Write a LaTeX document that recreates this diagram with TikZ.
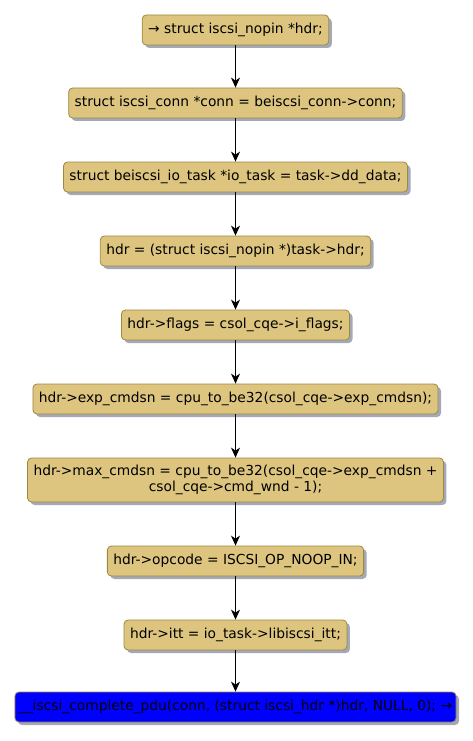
\documentclass[tikz,border=0pt]{standalone}
\usepackage{fontspec}
\setmainfont{DejaVu Sans}
\usepackage{tikz}
\usetikzlibrary{arrows.meta, shadows}
\definecolor{boxtan}{HTML}{DDC57F}
\definecolor{boxedge}{HTML}{9C8840}
\definecolor{shdgray}{HTML}{A3A9B6}
\definecolor{endblue}{HTML}{0000FF}

\tikzset{
  stepbox/.style={draw=boxedge, fill=boxtan, rounded corners=4pt,
    line width=0.8pt, inner xsep=6pt, inner ysep=0pt, minimum height=30pt,
    align=center, font=\fontsize{13.8}{16.5}\selectfont,
    drop shadow={shadow xshift=3pt, shadow yshift=-3pt, fill=shdgray, opacity=1}},
  endbox/.style={stepbox, fill=endblue, inner xsep=4pt},
  flow/.style={-{Stealth[length=10pt, width=9pt, inset=3pt]}, line width=0.8pt, black}
}

\begin{document}
\begin{tikzpicture}[x=1pt, y=-1pt]
  \useasboundingbox (0,0) rectangle (473,741);
  \def\cx{235.5}  % centre line of the flow

  % Steps, top to bottom
  \node[stepbox] (nopin)   at (\cx,30)  {→ struct iscsi\_nopin *hdr;};
  \node[stepbox] (conn)    at (\cx,103) {struct iscsi\_conn *conn = beiscsi\_conn->conn;};
  \node[stepbox] (iotask)  at (\cx,177) {struct beiscsi\_io\_task *io\_task = task->dd\_data;};
  \node[stepbox] (hdr)     at (\cx,251) {hdr = (struct iscsi\_nopin *)task->hdr;};
  \node[stepbox] (flags)   at (\cx,325) {hdr->flags = csol\_cqe->i\_flags;};
  \node[stepbox] (expcmd)  at (\cx,399) {hdr->exp\_cmdsn = cpu\_to\_be32(csol\_cqe->exp\_cmdsn);};
  \node[stepbox, minimum height=44pt] (maxcmd) at (\cx,480)
    {hdr->max\_cmdsn = cpu\_to\_be32(csol\_cqe->exp\_cmdsn +\\csol\_cqe->cmd\_wnd - 1);};
  \node[stepbox] (opcode)  at (\cx,561) {hdr->opcode = ISCSI\_OP\_NOOP\_IN;};
  \node[stepbox] (itt)     at (\cx,635) {hdr->itt = io\_task->libiscsi\_itt;};
  \node[endbox]  (pdu)     at (\cx,707) {\_\_iscsi\_complete\_pdu(conn, (struct iscsi\_hdr *)hdr, NULL, 0); →};

  % Connectors
  \foreach \a/\b in {nopin/conn, conn/iotask, iotask/hdr, hdr/flags, flags/expcmd,
                     expcmd/maxcmd, maxcmd/opcode, opcode/itt, itt/pdu} {
    \draw[flow] (\a.south) -- (\b.north);
  }
\end{tikzpicture}
\end{document}
